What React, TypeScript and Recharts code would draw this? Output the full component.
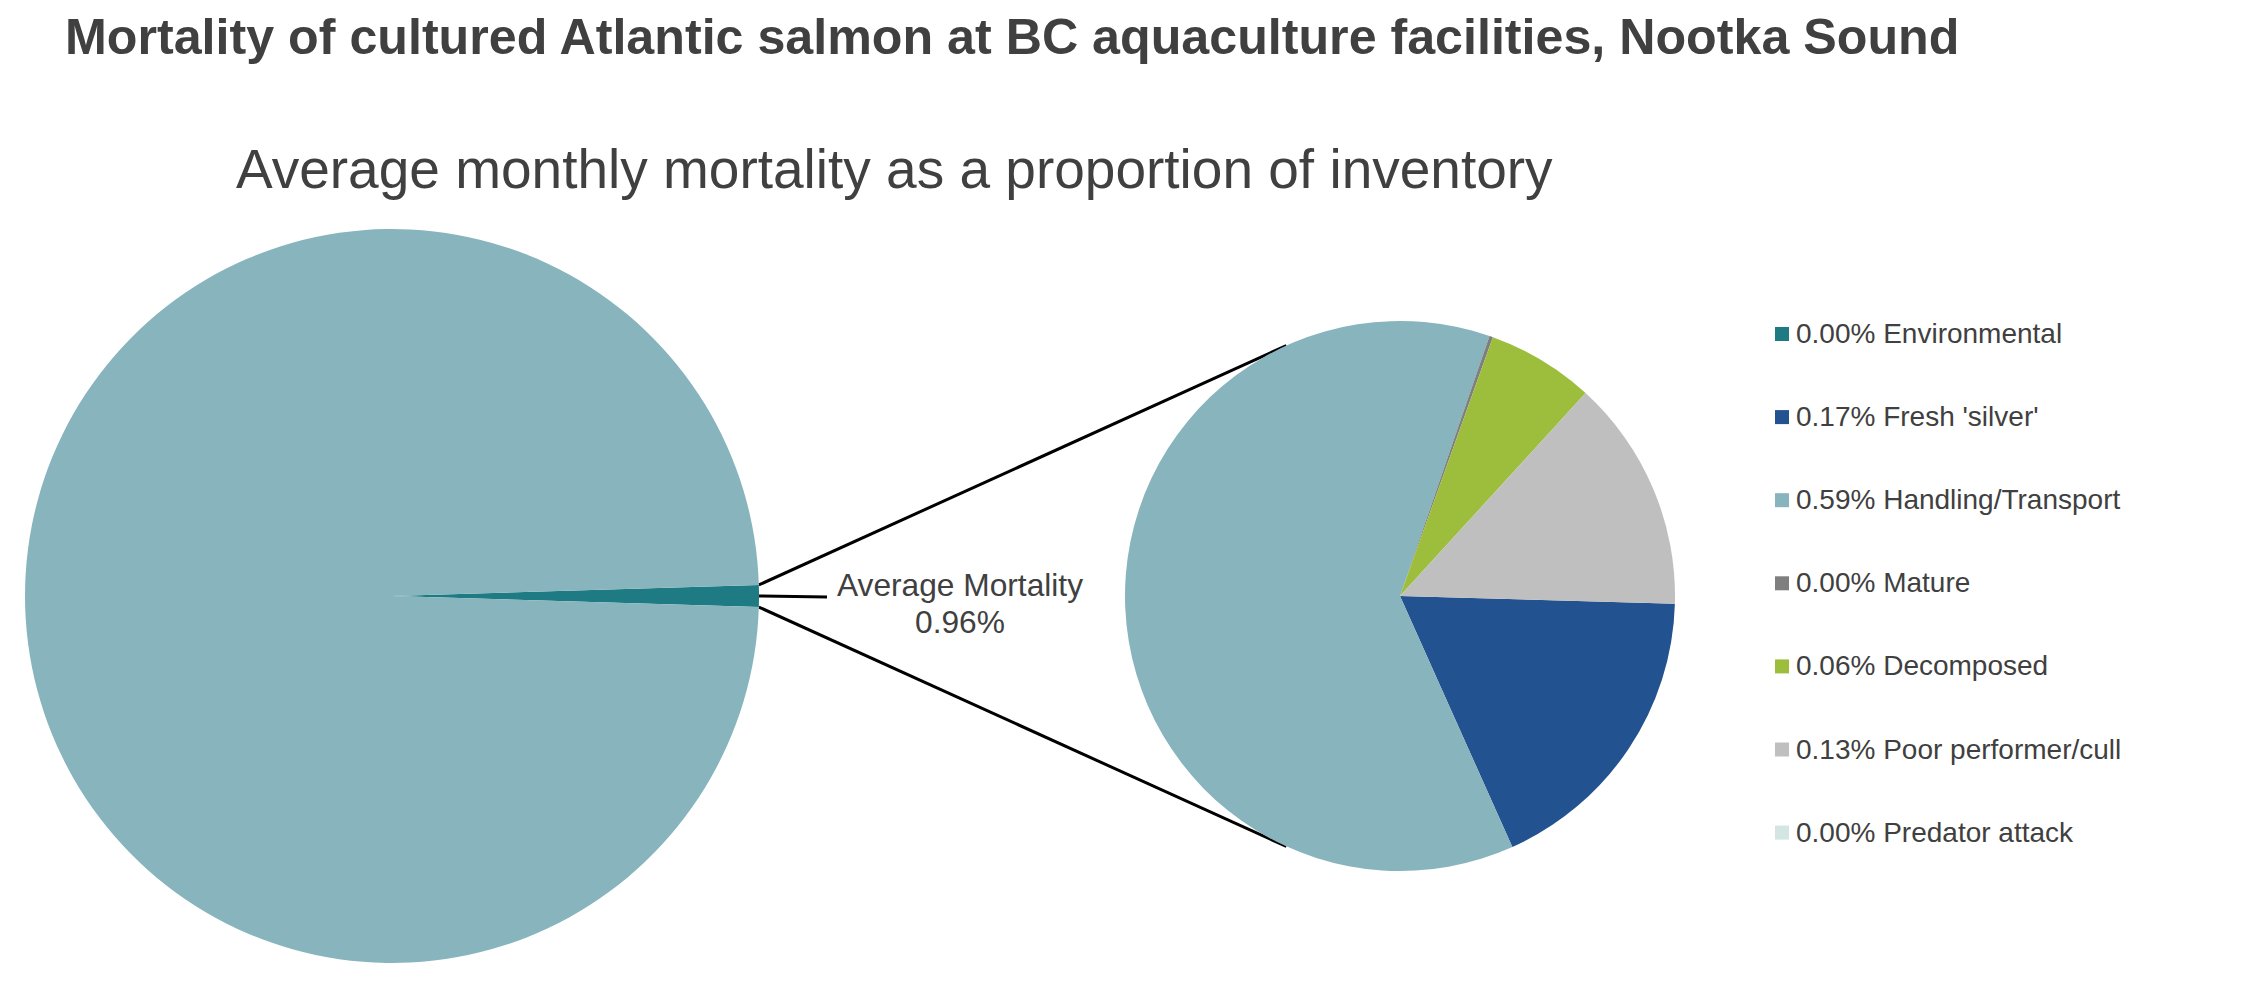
import React from 'react';
import { PieChart, Pie, Cell, Legend, Customized } from 'recharts';

// ---- data ----
const overviewNames = ['Average Mortality', 'Survival'];
const overviewValues = [0.96, 99.04];
const overviewColors = ['#1F7B83', '#87B4BD'];

const causeNames = ['Environmental', "Fresh 'silver'", 'Handling/Transport', 'Mature', 'Decomposed', 'Poor performer/cull', 'Predator attack'];
const causeValues = [0.0, 0.17, 0.59, 0.002, 0.06, 0.13, 0.0];
const causeColors = ['#1F7B83', '#22528F', '#87B4BD', '#7F7F7F', '#9DBE3C', '#BFBFBF', '#D3E6E4'];

const titleText = 'Mortality of cultured Atlantic salmon at BC aquaculture facilities, Nootka Sound';
const subtitleText = 'Average monthly mortality as a proportion of inventory';
const calloutLines = ['Average Mortality', '0.96%'];

// ---- layout ----
const W = 2244;
const H = 987;
const FONT = '"Liberation Sans", Arial, sans-serif';
const TEXT = '#404040';
const L = { cx: 392, cy: 596, r: 367 };
const R = { cx: 1400, cy: 596, r: 275 };

const overviewData = overviewNames.map((name, i) => ({ name, value: overviewValues[i] }));
const causeData = causeNames.map((name, i) => ({ name, value: causeValues[i] }));

const overviewTotal = overviewValues.reduce((a, b) => a + b, 0);
const halfMortAngle = (overviewValues[0] / overviewTotal) * 360 / 2;
const causeStart = -1.6;

const rad = Math.PI / 180;

function tangent(px: number, py: number, upper: boolean) {
  const dx = px - R.cx;
  const dy = py - R.cy;
  const d = Math.sqrt(dx * dx + dy * dy);
  const phi = Math.atan2(dy, dx);
  const a = Math.acos(R.r / d);
  const p1 = { x: R.cx + R.r * Math.cos(phi + a), y: R.cy + R.r * Math.sin(phi + a) };
  const p2 = { x: R.cx + R.r * Math.cos(phi - a), y: R.cy + R.r * Math.sin(phi - a) };
  if (upper) return p1.y < p2.y ? p1 : p2;
  return p1.y > p2.y ? p1 : p2;
}

const Decorations = () => {
  const ux = L.cx + L.r * Math.cos(halfMortAngle * rad);
  const uy = L.cy - L.r * Math.sin(halfMortAngle * rad);
  const lx = ux;
  const ly = L.cy + L.r * Math.sin(halfMortAngle * rad);
  const tu = tangent(ux, uy, true);
  const tl = tangent(lx, ly, false);
  return (
    <g>
      <text x={65} y={54} fontFamily={FONT} fontWeight="bold" fontSize={50.2} fill={TEXT}>{titleText}</text>
      <text x={236} y={188} fontFamily={FONT} fontSize={55} fill={TEXT}>{subtitleText}</text>
      <line x1={ux} y1={uy} x2={tu.x} y2={tu.y} stroke="#000" strokeWidth={3} />
      <line x1={lx} y1={ly} x2={tl.x} y2={tl.y} stroke="#000" strokeWidth={3} />
      <line x1={L.cx + L.r} y1={L.cy} x2={827} y2={597} stroke="#000" strokeWidth={3} />
      <text x={960} y={596} textAnchor="middle" fontFamily={FONT} fontSize={31.7} fill={TEXT}>{calloutLines[0]}</text>
      <text x={960} y={633} textAnchor="middle" fontFamily={FONT} fontSize={31.7} fill={TEXT}>{calloutLines[1]}</text>
    </g>
  );
};

const LegendContent = () => (
  <svg width={480} height={580} style={{ display: 'block' }}>
    {causeNames.map((name, i) => (
      <g key={name}>
        <rect x={15} y={27 + 83.1 * i} width={14} height={14} fill={causeColors[i]} />
        <text x={36} y={43 + 83.1 * i} fontFamily={FONT} fontSize={28} fill={TEXT}>
          {`${causeValues[i].toFixed(2)}% ${name}`}
        </text>
      </g>
    ))}
  </svg>
);

export default function App() {
  return (
    <div style={{ position: 'absolute', left: 0, top: 0, width: W, height: H, background: '#fff' }}>
      <PieChart width={W} height={H} margin={{ top: 0, right: 0, bottom: 0, left: 0 }}>
        <Pie
          data={overviewData}
          dataKey="value"
          nameKey="name"
          cx={L.cx}
          cy={L.cy}
          outerRadius={L.r}
          innerRadius={0}
          startAngle={halfMortAngle}
          endAngle={halfMortAngle - 360}
          stroke="none"
          isAnimationActive={false}
          legendType="none"
        >
          {overviewData.map((d, i) => (
            <Cell key={d.name} fill={overviewColors[i]} />
          ))}
        </Pie>
        <Pie
          data={causeData}
          dataKey="value"
          nameKey="name"
          cx={R.cx}
          cy={R.cy}
          outerRadius={R.r}
          innerRadius={0}
          startAngle={causeStart}
          endAngle={causeStart - 360}
          stroke="none"
          isAnimationActive={false}
        >
          {causeData.map((d, i) => (
            <Cell key={d.name} fill={causeColors[i]} />
          ))}
        </Pie>
        <Customized component={Decorations} />
        <Legend
          layout="vertical"
          align="right"
          verticalAlign="middle"
          content={LegendContent}
          wrapperStyle={{ position: 'absolute', left: 1760, top: 300, width: 480, height: 580 }}
        />
      </PieChart>
    </div>
  );
}
